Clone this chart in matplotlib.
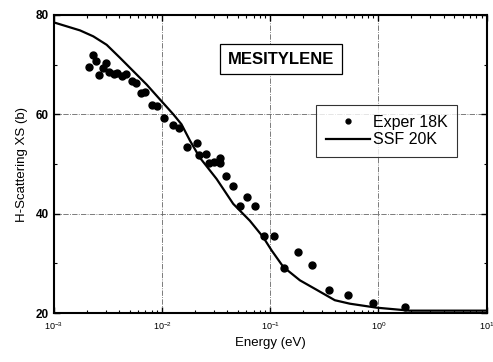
import numpy as np
import matplotlib.pyplot as plt
from matplotlib.ticker import LogLocator, FixedLocator, NullFormatter

# Exper 18K
exp_E = [0.00210, 0.00231, 0.00243, 0.00261, 0.00286, 0.00301, 0.00323, 0.00359,
         0.00385, 0.00428, 0.00460, 0.00530, 0.00569, 0.00641, 0.00689, 0.00810,
         0.00901, 0.0104, 0.0125, 0.0144, 0.0171, 0.0208, 0.0220, 0.0254, 0.0272,
         0.0301, 0.0342, 0.0342, 0.0389, 0.0454, 0.0524, 0.0611, 0.0721, 0.0873,
         0.108, 0.134, 0.181, 0.241, 0.348, 0.525, 0.894, 1.75]
exp_xs = [69.5, 71.9, 70.7, 68.0, 69.4, 70.4, 68.6, 68.2,
          68.4, 67.7, 68.2, 66.7, 66.4, 64.3, 64.5, 61.9,
          61.6, 59.2, 57.9, 57.3, 53.5, 54.3, 51.9, 52.0, 50.3,
          50.5, 51.3, 50.3, 47.5, 45.5, 41.6, 43.4, 41.6, 35.6,
          35.6, 29.0, 32.3, 29.6, 24.6, 23.7, 22.1, 21.3]

# SSF 20K
ssf_E = [0.001, 0.00174, 0.00231, 0.00307, 0.00407, 0.00541, 0.00719, 0.00955,
         0.0127, 0.0151, 0.0181, 0.0223, 0.0319, 0.0454, 0.0647, 0.0859, 0.103,
         0.132, 0.188, 0.268, 0.395, 0.544, 0.96, 1.95, 3.69, 10.0]
ssf_xs = [78.5, 76.9, 75.7, 74.0, 71.4, 68.7, 66.0, 63.0,
          60.0, 58.0, 54.7, 51.3, 47.0, 42.0, 38.6, 35.3, 32.6,
          29.3, 26.6, 24.7, 22.6, 21.9, 21.1, 20.5, 20.5, 20.5]

plt.rcParams['font.family'] = ['Liberation Sans', 'DejaVu Sans']

fig = plt.figure(figsize=(4.93, 3.62), dpi=100)
ax = fig.add_axes([0.1095, 0.135, 0.8775, 0.8236])

ax.plot(ssf_E, ssf_xs, color='black', linewidth=1.6, label='SSF 20K', zorder=3)
ax.plot(exp_E, exp_xs, linestyle='none', marker='o', markersize=5,
        color='black', label='Exper 18K', zorder=4)

ax.set_xscale('log')
ax.set_xlim(1e-3, 10)
ax.set_ylim(20, 80)

ax.xaxis.set_major_locator(LogLocator(base=10, numticks=10))
ax.xaxis.set_minor_locator(LogLocator(base=10, subs=np.arange(2, 10), numticks=10))
ax.xaxis.set_minor_formatter(NullFormatter())
ax.yaxis.set_major_locator(FixedLocator([20, 40, 60, 80]))
ax.yaxis.set_minor_locator(FixedLocator([30, 50, 70]))

ax.tick_params(which='both', direction='in', top=True, right=True)
ax.tick_params(which='major', length=4, width=1)
ax.tick_params(which='minor', length=2.5, width=0.8)
ax.tick_params(axis='x', labelsize=6.5, pad=5)
ax.tick_params(axis='y', labelsize=8.5)
for lab in ax.get_yticklabels():
    lab.set_fontweight('bold')

for s in ax.spines.values():
    s.set_linewidth(1.5)

ax.grid(True, which='major', linestyle='-.', linewidth=0.6, color='#666666')

ax.set_xlabel('Energy (eV)', fontsize=9.5, labelpad=4)
ax.set_ylabel('H-Scattering XS (b)', fontsize=9.5, labelpad=6)

ax.text(0.525, 0.852, 'MESITYLENE', transform=ax.transAxes, fontsize=12,
        fontweight='bold', ha='center', va='center',
        bbox=dict(boxstyle='square,pad=0.45', facecolor='white',
                  edgecolor='black', linewidth=0.9))

handles, labels = ax.get_legend_handles_labels()
leg = ax.legend(handles[::-1], labels[::-1], loc='upper right',
                bbox_to_anchor=(0.932, 0.698), fontsize=11.5, frameon=True,
                fancybox=False, edgecolor='black', handlelength=2.8,
                borderpad=0.6, labelspacing=0.18, handletextpad=0.15,
                borderaxespad=0, markerscale=0.7)
leg.get_frame().set_linewidth(0.8)

fig.savefig('out.png', dpi=100)
